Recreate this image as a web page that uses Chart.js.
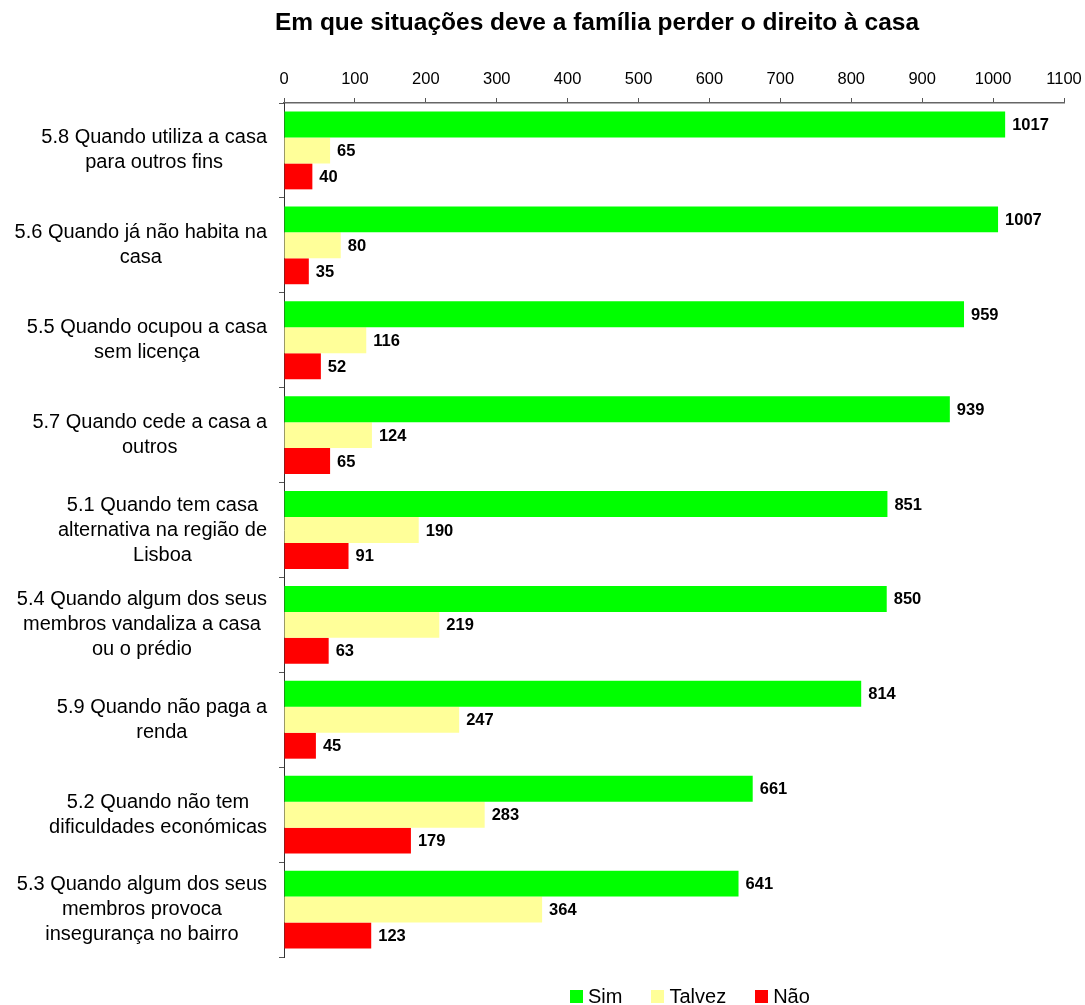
<!DOCTYPE html>
<html>
<head>
<meta charset="utf-8">
<script src="https://cdn.jsdelivr.net/npm/chart.js@4/dist/chart.umd.min.js"></script>
<style>
  body { margin: 0; background: #fff; overflow: hidden; }
  #wrap { position: relative; width: 1085px; height: 1005px; }
  #title {
    position: absolute; top: 8px; left: 597px; transform: translateX(-50%);
    white-space: nowrap; font: bold 24.5px "Liberation Sans", Arial, sans-serif;
    line-height: 28px; color: #000;
  }
  #legend {
    position: absolute; top: 986px; left: 570px; display: flex;
    font: 20px "Liberation Sans", Arial, sans-serif; line-height: 20px; color: #000;
  }
  #legend .item { display: flex; align-items: center; margin-right: 29px; }
  #legend .box { width: 13px; height: 13px; margin-right: 5px; }
</style>
</head>
<body>
<div id="wrap">
  <canvas id="chart" width="1085" height="1005"></canvas>
  <div id="title">Em que situações deve a família perder o direito à casa</div>
  <div id="legend"></div>
</div>
<script>
// Categories (each one split into the lines it is printed on)
var categories = [
    ['5.8 Quando utiliza a casa', 'para outros fins'],
    ['5.6 Quando já não habita na', 'casa'],
    ['5.5 Quando ocupou a casa', 'sem licença'],
    ['5.7 Quando cede a casa a', 'outros'],
    ['5.1 Quando tem casa', 'alternativa na região de', 'Lisboa'],
    ['5.4 Quando algum dos seus', 'membros vandaliza a casa', 'ou o prédio'],
    ['5.9 Quando não paga a', 'renda'],
    ['5.2 Quando não tem', 'dificuldades económicas'],
    ['5.3 Quando algum dos seus', 'membros provoca', 'insegurança no bairro']
];
var seriesNames = ['Sim', 'Talvez', 'Não'];
var simValues = [1017, 1007, 959, 939, 851, 850, 814, 661, 641];
var talvezValues = [65, 80, 116, 124, 190, 219, 247, 283, 364];
var naoValues = [40, 35, 52, 65, 91, 63, 45, 179, 123];
var xMin = 0, xMax = 1100, xStep = 100;

var FONT = '"Liberation Sans", Arial, sans-serif';
var axisGrey = '#7f7f7f';

// Writes the value at the end of every bar
var valueLabels = {
    id: 'valueLabels',
    afterDatasetsDraw: function(chart) {
        var ctx = chart.ctx;
        ctx.save();
        ctx.font = 'bold 16.5px ' + FONT;
        ctx.fillStyle = '#000';
        ctx.textAlign = 'left';
        ctx.textBaseline = 'middle';
        chart.data.datasets.forEach(function(ds, i) {
            chart.getDatasetMeta(i).data.forEach(function(bar, j) {
                ctx.fillText(ds.data[j], bar.x + 7, bar.y + 1);
            });
        });
        ctx.restore();
    }
};

// Category labels: lines centred on each other, block set against the axis
var categoryLabels = {
    id: 'categoryLabels',
    afterDraw: function(chart) {
        var ctx = chart.ctx;
        var yScale = chart.scales.y;
        var lineH = 25;
        ctx.save();
        ctx.font = '20px ' + FONT;
        ctx.fillStyle = '#000';
        ctx.textAlign = 'center';
        ctx.textBaseline = 'middle';
        chart.data.labels.forEach(function(lines, i) {
            var widest = 0;
            lines.forEach(function(l) { widest = Math.max(widest, ctx.measureText(l).width); });
            var cx = yScale.right - 17 - widest / 2;
            var cy = yScale.getPixelForValue(i);
            lines.forEach(function(l, k) {
                ctx.fillText(l, cx, cy + (k - (lines.length - 1) / 2) * lineH);
            });
        });
        ctx.restore();
    }
};

// Legend built as html from the chart's own legend items
var htmlLegend = {
    id: 'htmlLegend',
    afterUpdate: function(chart) {
        var box = document.getElementById('legend');
        box.innerHTML = '';
        chart.options.plugins.legend.labels.generateLabels(chart).forEach(function(item) {
            var el = document.createElement('div');
            el.className = 'item';
            var sw = document.createElement('span');
            sw.className = 'box';
            sw.style.background = item.fillStyle;
            var txt = document.createElement('span');
            txt.textContent = item.text;
            el.appendChild(sw);
            el.appendChild(txt);
            box.appendChild(el);
        });
    }
};

var ctx = document.getElementById('chart').getContext('2d');
var myChart = new Chart(ctx, {
    type: 'bar',
    data: {
        labels: categories,
        datasets: [
            { label: seriesNames[0], data: simValues, backgroundColor: '#00ff00' },
            { label: seriesNames[1], data: talvezValues, backgroundColor: '#ffff99' },
            { label: seriesNames[2], data: naoValues, backgroundColor: '#ff0000' }
        ]
    },
    options: {
        indexAxis: 'y',
        responsive: false,
        animation: false,
        events: [],
        layout: { padding: { top: 63, bottom: 48, left: 0, right: 21 } },
        datasets: {
            bar: { categoryPercentage: 0.82, barPercentage: 1.0, borderWidth: 0 }
        },
        plugins: {
            legend: { display: false },
            title: { display: false },
            tooltip: { enabled: false }
        },
        scales: {
            x: {
                position: 'top',
                min: xMin,
                max: xMax,
                afterFit: function(s) {
                    s.height = 40;
                    s.paddingLeft = 0;
                    s.paddingRight = 0;
                },
                ticks: {
                    stepSize: xStep,
                    padding: 9,
                    color: '#000',
                    font: { family: FONT, size: 16.5 },
                    callback: function(value) { return String(value); }
                },
                grid: { drawOnChartArea: false, tickLength: 5, color: '#555' },
                border: { color: '#666', width: 1.5 }
            },
            y: {
                afterFit: function(s) { s.width = 284; },
                ticks: { display: false },
                grid: { drawOnChartArea: false, tickLength: 5, color: '#555', offset: true },
                border: { color: '#333', width: 1 }
            }
        }
    },
    plugins: [valueLabels, categoryLabels, htmlLegend]
});
</script>
</body>
</html>
